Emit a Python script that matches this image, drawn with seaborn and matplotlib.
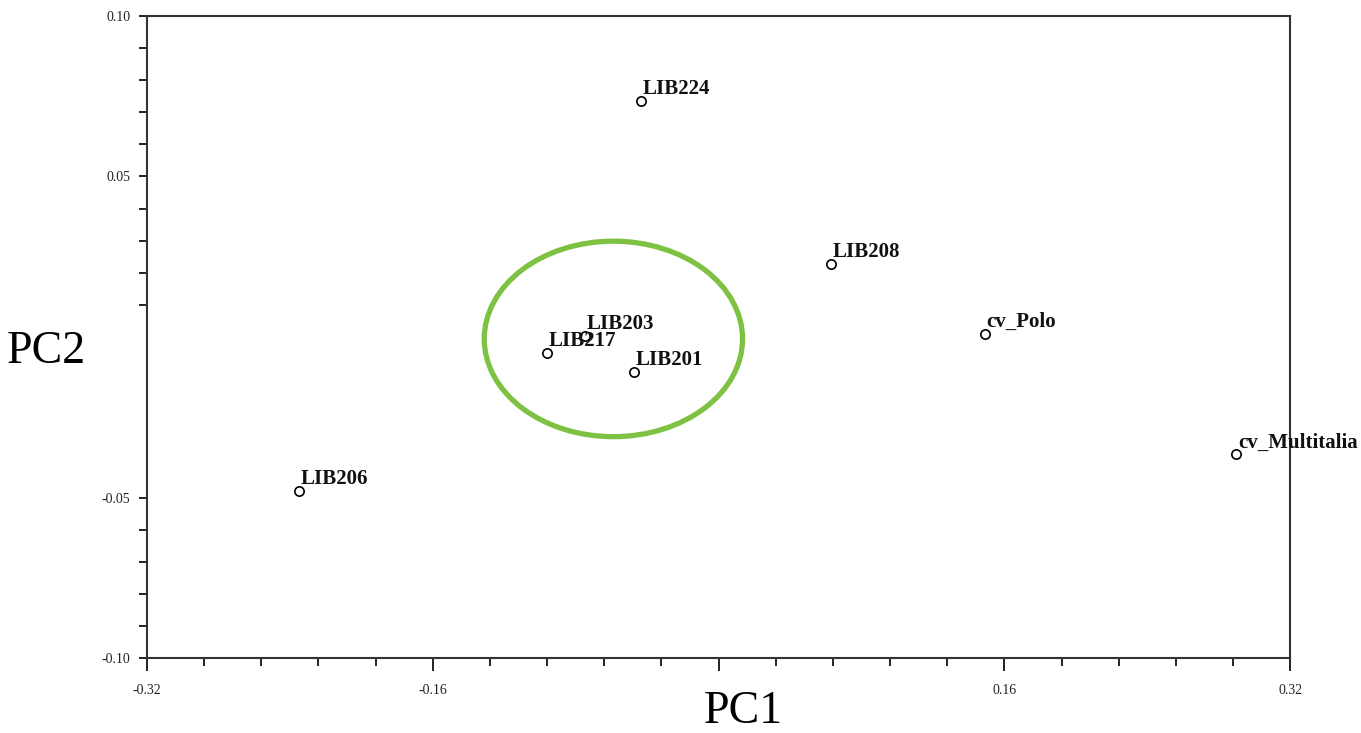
import matplotlib
matplotlib.use("Agg")
import matplotlib.pyplot as plt
from matplotlib.patches import Ellipse
import seaborn as sns
import pandas as pd
import numpy as np

# ---- data ----
labels = ["LIB224", "LIB208", "cv_Polo", "cv_Multitalia", "LIB206",
          "LIB217", "LIB203", "LIB201"]
pc1 = [-0.0437, 0.0628, 0.1490, 0.2898, -0.2349, -0.0959, -0.0746, -0.0476]
pc2 = [0.0734, 0.0228, 0.0009, -0.0366, -0.0481, -0.0050, 0.0003, -0.0109]

x_major = [-0.32, -0.16, 0.0, 0.16, 0.32]
x_major_labels = ["-0.32", "-0.16", "", "0.16", "0.32"]
y_major = [-0.10, -0.05, 0.05, 0.10]
y_major_labels = ["-0.10", "-0.05", "0.05", "0.10"]

df = pd.DataFrame({"label": labels, "PC1": pc1, "PC2": pc2})

sns.set_theme(style="white")
plt.rcParams["font.family"] = ["Liberation Serif", "DejaVu Serif"]

fig = plt.figure(figsize=(13.61, 7.33), dpi=100)
ax = fig.add_axes([0.108, 0.1023, 0.840, 0.8759])

sns.scatterplot(data=df, x="PC1", y="PC2", ax=ax, s=45, marker="o",
                facecolors="white", edgecolor="black", linewidth=1.2,
                zorder=3, legend=False)

for lab, x, y in zip(df["label"], df["PC1"], df["PC2"]):
    ax.annotate(lab, (x, y), xytext=(1.2, 5), textcoords="offset points",
                ha="left", va="baseline", fontsize=15, fontweight="bold",
                color="#111111", annotation_clip=False, zorder=4)

ax.add_patch(Ellipse((-0.0589, -0.0006), 0.1446, 0.0609, fill=False,
                     edgecolor="#7dc242", linewidth=3.8, zorder=2))

ax.set_xlim(-0.32, 0.32)
ax.set_ylim(-0.10, 0.10)

ax.set_xticks(x_major)
ax.set_xticklabels(x_major_labels)
ax.set_yticks(y_major)
ax.set_yticklabels(y_major_labels)

x_minor = [v for v in np.round(np.arange(-0.32, 0.3201, 0.032), 3)
           if not any(abs(v - m) < 1e-6 for m in x_major)]
y_minor = [v for v in np.round(np.arange(-0.10, 0.1001, 0.01), 3)
           if not any(abs(v - m) < 1e-6 for m in y_major)
           and not (-0.045 < v < 0.005)]
ax.set_xticks(x_minor, minor=True)
ax.set_yticks(y_minor, minor=True)

ax.tick_params(axis="both", which="both", direction="out", color="#222222",
               width=1.4, labelsize=10, labelcolor="#222222")
ax.tick_params(axis="x", which="major", length=9, pad=10)
ax.tick_params(axis="x", which="minor", length=6)
ax.tick_params(axis="y", which="both", length=6, pad=6)
ax.tick_params(bottom=True, left=True, which="both")

for sp in ax.spines.values():
    sp.set_visible(True)
    sp.set_color("#333333")
    sp.set_linewidth(1.5)

ax.set_xlabel("")
ax.set_ylabel("")
fig.text(743 / 1361, 1 - 712 / 733, "PC1", ha="center", va="center",
         fontsize=33, color="black")
fig.text(46 / 1361, 1 - 352 / 733, "PC2", ha="center", va="center",
         fontsize=33, color="black")

fig.savefig("out.png", dpi=100, facecolor="white")
